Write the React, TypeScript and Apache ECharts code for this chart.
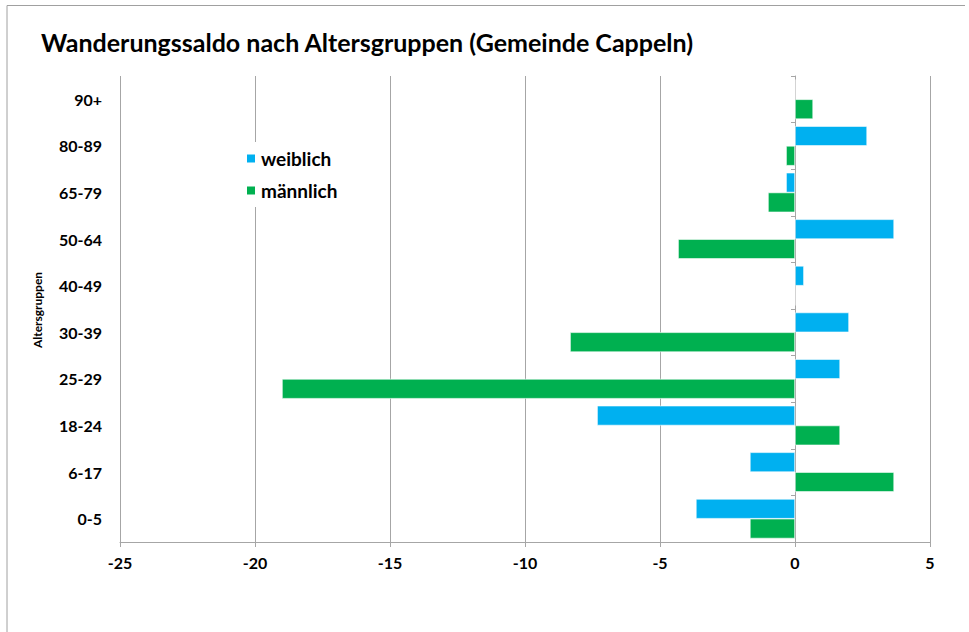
import React, { useEffect, useRef } from "react";
import * as echarts from "echarts";

const categories = ["0-5", "6-17", "18-24", "25-29", "30-39", "40-49", "50-64", "65-79", "80-89", "90+"];
const weiblich = [-3.67, -1.67, -7.33, 1.67, 2, 0.33, 3.67, -0.33, 2.67, 0];
const maennlich = [-1.67, 3.67, 1.67, -19, -8.33, 0, -4.33, -1, -0.33, 0.67];
const xTicks = { min: -25, max: 5, interval: 5 };

const FONT = "Lato, 'Noto Sans', sans-serif";

export default function App() {
  const ref = useRef<HTMLDivElement>(null);
  useEffect(() => {
    document.body.style.margin = "0";
    const chart = echarts.init(ref.current!, undefined, { renderer: "svg" });
    chart.setOption({
      animation: false,
      backgroundColor: "#ffffff",
      textStyle: { fontFamily: FONT },
      title: {
        text: "Wanderungssaldo nach Altersgruppen (Gemeinde Cappeln)",
        left: 36,
        top: 24,
        textStyle: { fontFamily: FONT, fontWeight: "bold", fontSize: 25, color: "#000" },
      },
      legend: {
        orient: "vertical",
        left: 238,
        top: 142,
        padding: 7,
        backgroundColor: "#ffffff",
        icon: "rect",
        itemWidth: 10,
        itemHeight: 10,
        itemGap: 13,
        data: ["weiblich", "männlich"],
        textStyle: { fontFamily: FONT, fontWeight: "bold", fontSize: 19, color: "#000" },
      },
      grid: { left: 120, right: 39, top: 76, bottom: 90 },
      xAxis: {
        type: "value",
        min: xTicks.min,
        max: xTicks.max,
        interval: xTicks.interval,
        axisLine: { show: true, lineStyle: { color: "#a6a6a6", width: 1 } },
        axisTick: { show: true, length: 5, lineStyle: { color: "#a6a6a6" } },
        splitLine: { show: true, lineStyle: { color: "#a6a6a6", width: 1 } },
        axisLabel: { fontFamily: FONT, fontWeight: "bold", fontSize: 16, color: "#000", margin: 12 },
      },
      yAxis: [
        {
          type: "category",
          data: categories,
          axisLine: { show: false, onZero: false },
          axisTick: { show: false },
          axisLabel: { fontFamily: FONT, fontWeight: "bold", fontSize: 16, color: "#000", margin: 18 },
        },
        {
          type: "category",
          data: categories,
          position: "left",
          axisLine: { show: true, onZero: true, onZeroAxisIndex: 0, lineStyle: { color: "#a6a6a6", width: 1 } },
          axisTick: { show: true, length: 4, lineStyle: { color: "#a6a6a6" } },
          axisLabel: { show: false },
          splitLine: { show: false },
        },
      ],
      graphic: [
        {
          type: "polyline",
          shape: { points: [[7, 640], [7, 5.5], [965, 5.5]] },
          style: { stroke: "#a0a0a0", fill: null, lineWidth: 1 },
          silent: true,
        },
        {
          type: "text",
          x: 37,
          y: 310,
          rotation: Math.PI / 2,
          style: {
            text: "Altersgruppen",
            fontFamily: FONT,
            fontWeight: "bold",
            fontSize: 12,
            fill: "#000",
            align: "center",
            verticalAlign: "middle",
          },
        },
      ],
      series: [
        {
          name: "weiblich",
          type: "bar",
          yAxisIndex: 0,
          data: weiblich,
          barGap: "0%",
          barCategoryGap: "15%",
          itemStyle: { color: "#00B0F0", borderColor: "#ffffff", borderWidth: 0.6 },
        },
        {
          name: "männlich",
          type: "bar",
          yAxisIndex: 0,
          data: maennlich,
          barGap: "0%",
          barCategoryGap: "15%",
          itemStyle: { color: "#00B050", borderColor: "#ffffff", borderWidth: 0.6 },
        },
      ],
    });
    return () => chart.dispose();
  }, []);
  return <div ref={ref} style={{ width: 969, height: 632 }} />;
}
